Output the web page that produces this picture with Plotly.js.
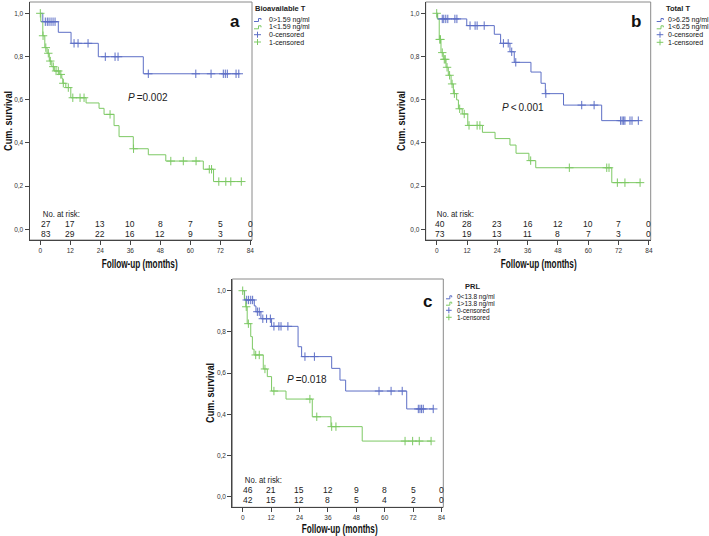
<!DOCTYPE html>
<html><head><meta charset="utf-8">
<script src="https://cdn.plot.ly/plotly-3.0.1.min.js"></script>
<style>html,body{margin:0;padding:0;background:#fff}#chart{width:709px;height:536px}</style>
</head><body><div id="chart"></div>
<script>
// ---------- DATA ----------
const monthTicks = [0, 12, 24, 36, 48, 60, 72, 84];
const survTicks = [0, 0.2, 0.4, 0.6, 0.8, 1.0];
const survTickText = ['0,0', '0,2', '0,4', '0,6', '0,8', '1,0'];

// Panel a : Bioavailable T
const aTitle = 'Bioavailable T';
const aNames = ['0>1.59 ng/ml', '1<1.59 ng/ml', '0-censored', '1-censored'];
const aBlueT = [1.0, 7.2, 12.3, 23.2, 41.2];
const aBlueS = [0.961, 0.912, 0.861, 0.799, 0.720];
const aBlueEnd = 79.4;
const aBlueCens = [2.0, 2.8, 3.5, 4.3, 5.1, 5.9, 13.5, 15.1, 19.1, 26.0, 29.9, 31.1, 43.2, 62.2, 68.3, 73.2, 74.0, 74.8, 78.3, 79.4];
const aGreenT = [0.2, 1.0, 1.8, 2.7, 3.6, 4.6, 5.6, 7.6, 8.6, 9.0, 10.2, 12.2, 18.3, 23.5, 25.5, 29.5, 31.5, 37.2, 43.2, 50.2, 65.2, 69.3];
const aGreenS = [0.961, 0.896, 0.841, 0.815, 0.779, 0.753, 0.733, 0.717, 0.699, 0.676, 0.656, 0.609, 0.585, 0.560, 0.532, 0.480, 0.429, 0.373, 0.345, 0.316, 0.278, 0.221];
const aGreenEnd = 80.4;
const aGreenCens = [0, 1.1, 2.2, 3.2, 4.0, 5.2, 6.3, 7.2, 8.2, 9.2, 11.2, 13.0, 15.9, 17.5, 27.9, 37.3, 52.2, 57.2, 62.3, 67.6, 68.5, 71.4, 74.2, 76.2, 80.4];
const aRiskBlue = [27, 17, 13, 10, 8, 7, 5, 0];
const aRiskGreen = [83, 29, 22, 16, 12, 9, 3, 0];
const aP = '<i>P</i>\u2009=0.002';

// Panel b : Total T
const bTitle = 'Total T';
const bNames = ['0>6.25 ng/ml', '1<6.25 ng/ml', '0-censored', '1-censored'];
const bBlueT = [0.25, 11.9, 22.8, 25.3, 29.0, 30.7, 37.3, 41.3, 43.0, 50.2, 65.3];
const bBlueS = [0.974, 0.943, 0.903, 0.861, 0.822, 0.773, 0.728, 0.676, 0.628, 0.575, 0.503];
const bBlueEnd = 79.8;
const bBlueCens = [2.2, 2.8, 3.6, 4.4, 7.2, 8.0, 13.2, 15.2, 16.0, 18.8, 26.4, 28.3, 29.7, 31.3, 43.2, 57.4, 62.3, 72.8, 73.4, 74.0, 74.5, 76.5, 77.3, 79.8];
const bGreenT = [0.4, 1.0, 1.7, 2.6, 3.7, 4.6, 5.7, 6.6, 7.9, 8.6, 10.1, 12.3, 18.1, 23.1, 29.0, 31.4, 36.5, 39.2, 69.3];
const bGreenS = [0.973, 0.879, 0.818, 0.787, 0.750, 0.713, 0.673, 0.628, 0.599, 0.558, 0.534, 0.481, 0.449, 0.420, 0.390, 0.352, 0.318, 0.285, 0.216];
const bGreenEnd = 80.5;
const bGreenCens = [0, 1.2, 1.5, 2.2, 3.0, 3.4, 4.1, 5.1, 6.1, 7.0, 9.1, 10.9, 12.8, 16.0, 17.1, 37.2, 52.5, 67.3, 68.2, 71.5, 74.5, 80.5];
const bRiskBlue = [40, 28, 23, 16, 12, 10, 7, 0];
const bRiskGreen = [73, 19, 13, 11, 8, 7, 3, 0];
const bP = '<i>P</i>\u2009<\u20090.001';

// Panel c : PRL
const cTitle = 'PRL';
const cNames = ['0<13.8 ng/ml', '1>13.8 ng/ml', '0-censored', '1-censored'];
const cBlueT = [0.8, 4.9, 5.6, 7.7, 12.2, 23.4, 24.9, 37.6, 41.1, 43.5, 69.3];
const cBlueS = [0.955, 0.926, 0.898, 0.864, 0.827, 0.728, 0.680, 0.623, 0.566, 0.513, 0.426];
const cBlueEnd = 80.5;
const cBlueCens = [1.7, 2.5, 3.4, 4.2, 6.2, 7.0, 8.5, 10.1, 11.7, 13.2, 15.3, 16.2, 19.1, 26.3, 30.3, 57.6, 62.7, 67.4, 74.2, 74.9, 75.6, 76.3, 80.5];
const cGreenT = [0.7, 1.3, 1.9, 3.4, 4.1, 4.8, 8.7, 10.4, 12.2, 18.3, 29.4, 37.3, 50.5];
const cGreenS = [0.960, 0.922, 0.840, 0.777, 0.716, 0.688, 0.620, 0.583, 0.513, 0.474, 0.388, 0.340, 0.270];
const cGreenEnd = 79.6;
const cGreenCens = [0, 1.5, 2.4, 5.5, 7.0, 9.4, 13.2, 28.4, 31.3, 37.6, 39.4, 68.6, 71.8, 74.6, 79.6];
const cRiskBlue = [46, 21, 15, 12, 9, 8, 5, 0];
const cRiskGreen = [42, 15, 12, 8, 5, 4, 2, 0];
const cP = '<i>P</i>\u2009=0.018';

// ---------- STYLE / LAYOUT ----------
const W = 709, H = 536;
const px = x => x / W, py = y => 1 - y / H;
const BLUE = '#5d6fc6', GREEN = '#7dc964';
const SANS = 'Liberation Sans, Arial, sans-serif';

function stepXY(t, s, end) {
  return { x: [0].concat(t, [end]), y: [1].concat(s, [s[s.length - 1]]) };
}
function survAt(t, s, tt) {
  let v = 1;
  for (let i = 0; i < t.length; i++) if (t[i] <= tt) v = s[i];
  return v;
}

const panels = [
  { xa: 'x', ya: 'y', box: [29.5, 2, 252, 240], xr: [-4.32, 84.68], yr: [-0.0495, 1.0523],
    blue: [aBlueT, aBlueS, aBlueEnd, aBlueCens], green: [aGreenT, aGreenS, aGreenEnd, aGreenCens],
    risk: [aRiskBlue, aRiskGreen], riskY: [214, 224, 234], riskX0: -0.4,
    P: aP, Ppos: [148, 97], tag: 'a', tagPos: [235, 22], ylab: [8, 121], xlab: [139.5, 264],
    leg: { title: aTitle, names: aNames, tx: 280, ty: 9, g0: 254, g1: 261, t0: 267, ys: [20, 27.3, 34.7, 42], fs: 7 } },
  { xa: 'x2', ya: 'y2', box: [425.7, 2, 650.7, 240], xr: [-4.35, 84.7], yr: [-0.0495, 1.0523],
    blue: [bBlueT, bBlueS, bBlueEnd, bBlueCens], green: [bGreenT, bGreenS, bGreenEnd, bGreenCens],
    risk: [bRiskBlue, bRiskGreen], riskY: [214, 224, 234], riskX0: -1.6,
    P: bP, Ppos: [523, 107], tag: 'b', tagPos: [636, 22], ylab: [401, 121], xlab: [538, 264],
    leg: { title: bTitle, names: bNames, tx: 678, ty: 9, g0: 656.7, g1: 663.3, t0: 666, ys: [20, 27.3, 34.7, 42.3], fs: 7 } },
  { xa: 'x3', ya: 'y3', box: [232.3, 279, 443.3, 507.3], xr: [-4.39, 84.76], yr: [-0.0515, 1.0568],
    blue: [cBlueT, cBlueS, cBlueEnd, cBlueCens], green: [cGreenT, cGreenS, cGreenEnd, cGreenCens],
    risk: [cRiskBlue, cRiskGreen], riskY: [480, 490, 500], riskX0: -0.85,
    P: cP, Ppos: [307, 379], tag: 'c', tagPos: [428, 301], ylab: [210, 393], xlab: [339, 529],
    leg: { title: cTitle, names: cNames, tx: 472, ty: 286.7, g0: 446, g1: 451.7, t0: 454.7, ys: [297.3, 303.7, 310.3, 317.3], fs: 6.5 } }
];

const data = [];
const layout = {
  width: W, height: H, margin: { l: 0, r: 0, t: 0, b: 0 },
  paper_bgcolor: '#fff', plot_bgcolor: '#fff', showlegend: false,
  annotations: [], shapes: []
};

panels.forEach((p, i) => {
  const sfx = i === 0 ? '' : String(i + 1);
  [[p.blue, BLUE], [p.green, GREEN]].forEach(([d, col]) => {
    const st = stepXY(d[0], d[1], d[2]);
    data.push({ x: st.x, y: st.y, xaxis: p.xa, yaxis: p.ya, mode: 'lines', type: 'scatter',
      line: { shape: 'hv', color: col, width: 1 }, hoverinfo: 'skip' });
  });
  [[p.blue, BLUE], [p.green, GREEN]].forEach(([d, col]) => {
    data.push({ x: d[3], y: d[3].map(t => survAt(d[0], d[1], t)), xaxis: p.xa, yaxis: p.ya,
      mode: 'markers', type: 'scatter', hoverinfo: 'skip',
      marker: { symbol: 'cross-thin', size: 6, line: { color: col, width: 1 } } });
  });
  const tickfont = { family: SANS, size: 6.5, color: '#333' };
  layout['xaxis' + sfx] = { domain: [px(p.box[0]), px(p.box[2])], range: p.xr, anchor: p.ya,
    tickvals: monthTicks, ticks: 'outside', ticklen: 4, tickcolor: '#444', showline: true,
    linecolor: '#444', linewidth: 1, zeroline: false, showgrid: false, tickfont: tickfont, fixedrange: true };
  layout['yaxis' + sfx] = { domain: [py(p.box[3]), py(p.box[1])], range: p.yr, anchor: p.xa,
    tickvals: survTicks, ticktext: survTickText, ticks: 'outside', ticklen: 4, tickcolor: '#444',
    showline: true, linecolor: '#444', linewidth: 1, zeroline: false, showgrid: false, tickfont: tickfont, fixedrange: true };
  layout.shapes.push({ type: 'rect', xref: p.xa + ' domain', yref: p.ya + ' domain', x0: 0, x1: 1, y0: 0, y1: 1,
    line: { color: '#8a8a8a', width: 1 }, layer: 'below' });
  const rf = { family: SANS, size: 8.5, color: '#222' };
  layout.annotations.push({ xref: p.xa, yref: 'paper', x: p.riskX0, y: py(p.riskY[0]), text: 'No. at risk:',
    showarrow: false, xanchor: 'left', yanchor: 'middle', font: rf, name: 'risklabel' });
  p.risk.forEach((row, r) => {
    row.forEach((n, k) => {
      const first = k === 0;
      layout.annotations.push({ xref: p.xa, yref: 'paper', x: first ? p.riskX0 : monthTicks[k], y: py(p.riskY[r + 1]),
        text: String(n), showarrow: false, xanchor: first ? 'left' : 'center', yanchor: 'middle', font: rf });
    });
  });
  layout.annotations.push({ xref: 'paper', yref: 'paper', x: px(p.Ppos[0]), y: py(p.Ppos[1]), text: p.P,
    showarrow: false, xanchor: 'center', yanchor: 'middle', font: { family: SANS, size: 10, color: '#222' } });
  layout.annotations.push({ xref: 'paper', yref: 'paper', x: px(p.tagPos[0]), y: py(p.tagPos[1]), text: '<b>' + p.tag + '</b>',
    showarrow: false, xanchor: 'center', yanchor: 'middle', font: { family: SANS, size: 17, color: '#111' } });
  layout.annotations.push({ xref: 'paper', yref: 'paper', x: px(p.ylab[0]), y: py(p.ylab[1]), text: '<b>Cum. survival</b>',
    textangle: -90, showarrow: false, xanchor: 'center', yanchor: 'middle', font: { family: SANS, size: 11, color: '#111' } });
  layout.annotations.push({ xref: 'paper', yref: 'paper', x: px(p.xlab[0]), y: py(p.xlab[1]), text: '<b>Follow-up (months)</b>',
    showarrow: false, xanchor: 'center', yanchor: 'middle', font: { family: SANS, size: 12, color: '#111' } });
  const L = p.leg;
  layout.annotations.push({ xref: 'paper', yref: 'paper', x: px(L.tx), y: py(L.ty), text: '<b>' + L.title + '</b>',
    showarrow: false, xanchor: 'center', yanchor: 'middle', font: { family: SANS, size: 7.5, color: '#222' } });
  const cols = [BLUE, GREEN, BLUE, GREEN];
  L.names.forEach((nm, k) => {
    const yc = L.ys[k];
    layout.annotations.push({ xref: 'paper', yref: 'paper', x: px(L.t0), y: py(yc), text: nm,
      showarrow: false, xanchor: 'left', yanchor: 'middle', font: { family: SANS, size: L.fs, color: '#111' } });
    const gm = (L.g0 + L.g1) / 2;
    if (k < 2) {
      layout.shapes.push({ type: 'path', xref: 'paper', yref: 'paper',
        path: `M ${px(L.g0)},${py(yc + 1.5)} L ${px(gm + 1)},${py(yc + 1.5)} L ${px(gm + 1)},${py(yc - 1.5)} L ${px(L.g1)},${py(yc - 1.5)} L ${px(L.g1)},${py(yc)}`,
        line: { color: cols[k], width: 1 } });
    } else {
      layout.shapes.push({ type: 'line', xref: 'paper', yref: 'paper', x0: px(L.g0), x1: px(L.g1), y0: py(yc), y1: py(yc),
        line: { color: cols[k], width: 1 } });
      layout.shapes.push({ type: 'line', xref: 'paper', yref: 'paper', x0: px(gm), x1: px(gm), y0: py(yc - 3), y1: py(yc + 3),
        line: { color: cols[k], width: 1 } });
    }
  });
});

// condensed look of the SPSS titles: squeeze text horizontally (text stays real text)
const squeeze = { 'Follow-up (months)': 76, 'Cum. survival': 60, 'No. at risk:': 37 };
Plotly.newPlot('chart', data, layout, { staticPlot: true, displayModeBar: false }).then(gd => {
  gd.querySelectorAll('.annotation-text').forEach(t => {
    const len = squeeze[t.textContent];
    if (len) { t.setAttribute('textLength', len); t.setAttribute('lengthAdjust', 'spacingAndGlyphs'); }
  });
});
</script>
</body></html>
